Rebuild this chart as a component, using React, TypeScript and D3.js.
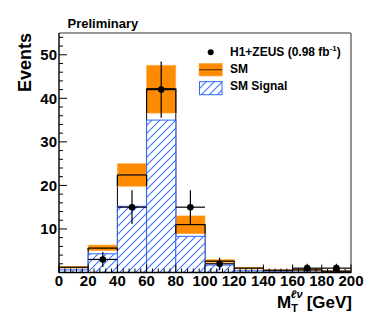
import React from "react";
import * as d3 from "d3";

const binEdges = [0, 20, 40, 60, 80, 100, 120, 140, 160, 180, 200];
const smValues = [1.2, 5.6, 22.4, 42.2, 11.0, 2.6, 1.0, 0.5, 0.6, 0.3];
const smLow = [1.0, 5.0, 19.8, 36.6, 8.9, 2.3, 0.8, 0.35, 0.4, 0.2];
const smHigh = [1.4, 6.3, 25.0, 47.6, 13.0, 3.0, 1.2, 0.65, 0.8, 0.4];
const signalValues = [0.6, 4.3, 15.2, 35.0, 8.3, 1.7, 0.4, 0.15, 0.1, 0.05];
const dataValues = [0, 3, 15, 42, 15, 2, 0, 0, 1, 1];
const xTicks = [0, 20, 40, 60, 80, 100, 120, 140, 160, 180, 200];
const yTicks = [10, 20, 30, 40, 50];

const W = 391;
const H = 322;
const L = 59, R = 351, T = 33, B = 272.5;
const FONT = "'Liberation Sans', Arial, Helvetica, sans-serif";
const ORANGE = "#ff8c00";
const BLUE = "#2f66ff";

export default function App() {
  const x = d3.scaleLinear().domain([0, 200]).range([L, R]);
  const y = d3.scaleLinear().domain([0, 55]).range([B, T]);
  const bins = smValues.map((v, i) => ({
    x0: binEdges[i],
    x1: binEdges[i + 1],
    sm: v,
    lo: smLow[i],
    hi: smHigh[i],
    sig: signalValues[i],
    data: dataValues[i],
  }));
  const xMinor = d3.range(0, 201, 4);
  const yMinor = d3.range(0, 55.01, 2);

  return (
    <svg
      width={W}
      height={H}
      style={{ position: "absolute", left: 0, top: 0, background: "#fff" }}
      fontFamily={FONT}
      fontWeight="bold"
    >
      <defs>
        <pattern id="hatch" patternUnits="userSpaceOnUse" width={8} height={8}>
          <rect x={0} y={0} width={8} height={8} fill="#fff" />
          <path d="M-2,2 L2,-2 M0,8 L8,0 M6,10 L10,6" stroke="#3d74ff" strokeWidth={1.1} fill="none" />
        </pattern>
      </defs>
      <rect x={0} y={0} width={W} height={H} fill="#fff" />

      {/* SM histogram boxes */}
      {bins.map((b, i) => (
        <rect
          key={"sm" + i}
          x={x(b.x0)}
          y={y(b.sm)}
          width={x(b.x1) - x(b.x0)}
          height={y(0) - y(b.sm)}
          fill="#fff"
          stroke="#000"
          strokeWidth={1}
        />
      ))}
      {/* SM uncertainty band */}
      {bins.map((b, i) => (
        <rect
          key={"band" + i}
          x={x(b.x0)}
          y={y(b.hi)}
          width={x(b.x1) - x(b.x0)}
          height={y(b.lo) - y(b.hi)}
          fill={ORANGE}
          stroke="#ffb050"
          strokeWidth={0.6}
        />
      ))}
      {/* Signal hatch */}
      {bins.map((b, i) => (
        <rect
          key={"sig" + i}
          x={x(b.x0)}
          y={y(b.sig)}
          width={x(b.x1) - x(b.x0)}
          height={y(0) - y(b.sig)}
          fill="url(#hatch)"
          stroke={BLUE}
          strokeWidth={1}
        />
      ))}
      {/* SM central line and edges */}
      {bins.map((b, i) => (
        <g key={"smline" + i} stroke="#000" strokeWidth={1.2} fill="none">
          <line x1={x(b.x0)} x2={x(b.x1)} y1={y(b.sm)} y2={y(b.sm)} />
          <line x1={x(b.x0)} x2={x(b.x0)} y1={y(b.sm)} y2={y(b.lo)} />
          <line x1={x(b.x1)} x2={x(b.x1)} y1={y(b.sm)} y2={y(b.lo)} />
        </g>
      ))}

      {/* Axes frame */}
      <line x1={L} x2={R} y1={T} y2={T} stroke="#777" strokeWidth={1.6} />
      <line x1={R} x2={R} y1={T} y2={B} stroke="#777" strokeWidth={1.6} />
      <line x1={L} x2={L} y1={T} y2={B} stroke="#000" strokeWidth={1.4} />
      <line x1={L} x2={R} y1={B} y2={B} stroke="#000" strokeWidth={1.4} />

      {/* Y ticks */}
      {yMinor.map((v) => {
        const major = v % 10 === 0;
        return (
          <line
            key={"yt" + v}
            x1={L}
            x2={L + (major ? 8 : 4)}
            y1={y(v)}
            y2={y(v)}
            stroke="#000"
            strokeWidth={1}
          />
        );
      })}
      {yTicks.map((v) => (
        <text key={"yl" + v} x={L - 2} y={y(v) + 5.3} textAnchor="end" fontSize={15} fill="#000">
          {v}
        </text>
      ))}

      {/* X ticks */}
      {xMinor.map((v) => {
        const major = v % 20 === 0;
        return (
          <line
            key={"xt" + v}
            x1={x(v)}
            x2={x(v)}
            y1={B}
            y2={B - (major ? 8 : 4)}
            stroke="#000"
            strokeWidth={1}
          />
        );
      })}
      {xTicks.map((v) => (
        <text key={"xl" + v} x={x(v)} y={285.5} textAnchor="middle" fontSize={15} fill="#000">
          {v}
        </text>
      ))}

      {/* Data points */}
      {bins
        .filter((b) => b.data > 0)
        .map((b, i) => {
          const cx = x((b.x0 + b.x1) / 2);
          const err = Math.sqrt(b.data);
          return (
            <g key={"d" + i} stroke="#000" strokeWidth={1.2}>
              <line x1={x(b.x0)} x2={x(b.x1)} y1={y(b.data)} y2={y(b.data)} />
              <line x1={cx} x2={cx} y1={y(b.data + err)} y2={y(Math.max(0, b.data - err))} />
              <circle cx={cx} cy={y(b.data)} r={3.3} fill="#000" stroke="none" />
            </g>
          );
        })}

      {/* Titles */}
      <text x={67.5} y={28.3} fontSize={13} fill="#000">Preliminary</text>
      <text
        transform={`translate(30.5, ${T}) rotate(-90)`}
        textAnchor="end"
        fontSize={18}
        fill="#000"
      >
        Events
      </text>
      <text x={R + 1} y={308} textAnchor="end" fontSize={17} fill="#000">
        <tspan>M</tspan>
        <tspan fontSize={11} dy={4}>T</tspan>
        <tspan fontSize={11} fontStyle="italic" dx={-7} dy={-14}>ℓν</tspan>
        <tspan dy={10} dx={4}>[GeV]</tspan>
      </text>

      {/* Legend */}
      <circle cx={210.7} cy={52.3} r={3} fill="#000" />
      <text x={230} y={56} fontSize={12} fill="#000">
        H1+ZEUS (0.98 fb<tspan fontSize={8} dy={-5}>-1</tspan>
        <tspan dy={5}>)</tspan>
      </text>
      <rect x={199} y={63.3} width={23.3} height={12.7} fill={ORANGE} stroke="#ffb050" strokeWidth={0.6} />
      <line x1={199} x2={222.3} y1={69.7} y2={69.7} stroke="#6a3500" strokeWidth={1.2} />
      <text x={230} y={73} fontSize={12} fill="#000">SM</text>
      <rect x={199.5} y={81.7} width={22.5} height={13} fill="url(#hatch)" stroke={BLUE} strokeWidth={1} />
      <text x={230} y={90.3} fontSize={12} fill="#000">SM Signal</text>
    </svg>
  );
}
